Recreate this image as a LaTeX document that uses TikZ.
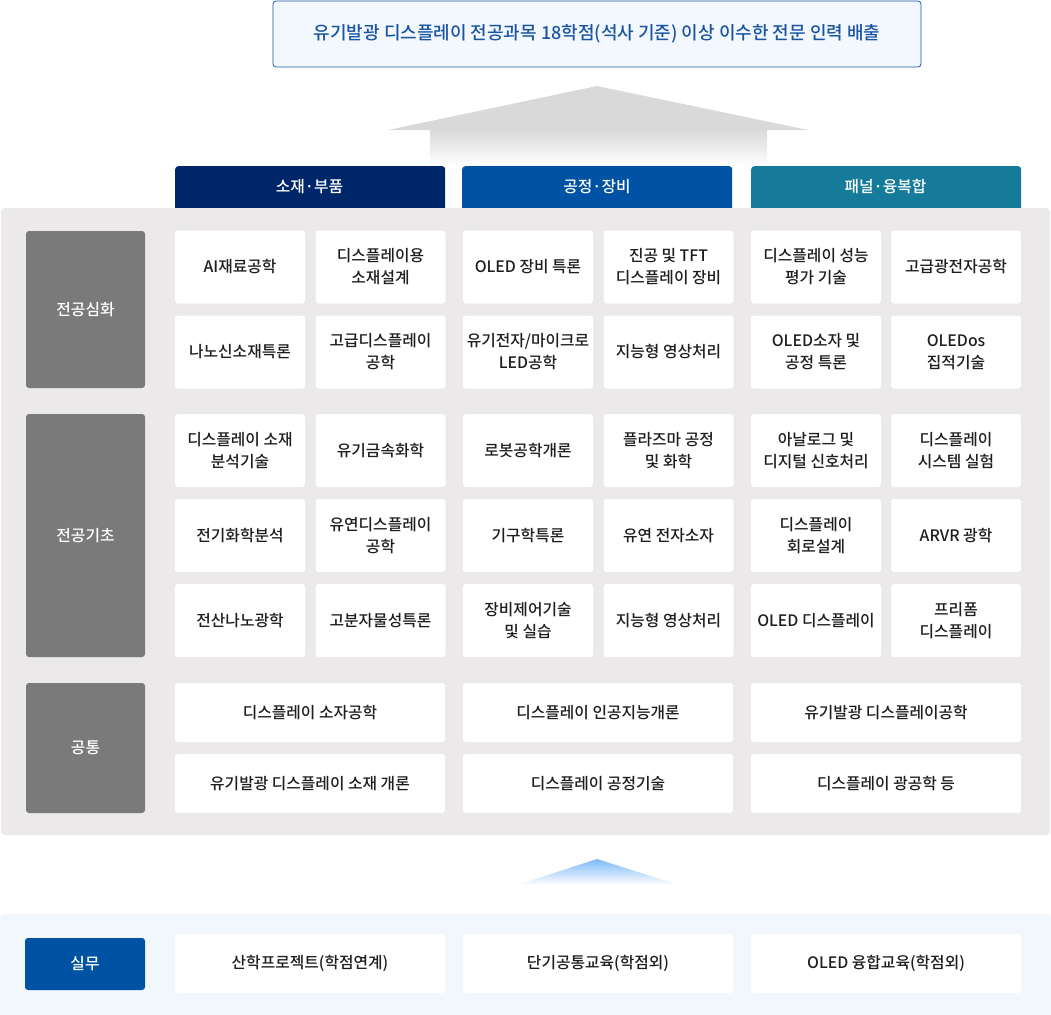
\documentclass[tikz,border=0pt]{standalone}
\usepackage{fontspec}
\setmainfont{Noto Sans CJK KR}
\newfontfamily\medfont{Noto Sans CJK KR Medium}
\usetikzlibrary{shapes.geometric}
\definecolor{navyc}{HTML}{00266A}
\definecolor{bluec}{HTML}{0052A4}
\definecolor{tealc}{HTML}{167B9B}
\definecolor{panelc}{HTML}{EBE9EA}
\definecolor{labelc}{HTML}{7A7A7A}
\definecolor{topfill}{HTML}{F3F8FE}
\definecolor{topline}{HTML}{1D58A6}
\definecolor{toptext}{HTML}{1A55A2}
\definecolor{botfill}{HTML}{F2F7FD}
\definecolor{txtc}{HTML}{1E1E1E}
\definecolor{arrowgray}{HTML}{D9D9D9}
\definecolor{arrowblue}{HTML}{7DB9F6}
\tikzset{
  cellbox/.style={fill=white, rounded corners=3pt, align=center, inner sep=0pt,
    minimum width=130pt, minimum height=73pt, text=txtc, font=\medfont\fontsize{15.8}{22}\selectfont},
  widebox/.style={cellbox, minimum width=270pt, minimum height=59pt},
  rowlabel/.style={fill=labelc, rounded corners=3pt, align=center, inner sep=0pt,
    minimum width=119pt, text=white, font=\medfont\fontsize{15.8}{22}\selectfont},
  headbox/.style={rounded corners=3pt, inner sep=0pt, minimum width=270pt, minimum height=46pt},
  headtext/.style={text=white, font=\medfont\fontsize{15.8}{22}\selectfont},
}
\begin{document}
\begin{tikzpicture}[x=1pt,y=-1pt]
\useasboundingbox (0,0) rectangle (1051,1014);
% top box
\node[draw=topline, fill=topfill, line width=0.8pt, rounded corners=3pt, minimum width=648pt, minimum height=66pt,
  inner sep=0pt, text=toptext, font=\medfont\fontsize{18}{22}\selectfont] (goal) at (597,34)
  {유기발광 디스플레이 전공과목 18학점(석사 기준) 이상 이수한 전문 인력 배출};
% gray arrow
\fill[arrowgray] (388,130) -- (597,86) -- (808,130) -- cycle;
\shade[top color=arrowgray, bottom color=white] (430,129.5) rectangle (767,166);
% headers
\node[headbox, fill=navyc, anchor=north west] (h1) at (175,166) {};
\node[headbox, fill=bluec, anchor=north west] (h2) at (462,166) {};
\node[headbox, fill=tealc, anchor=north west] (h3) at (751,166) {};
\node[headtext] (t1) at (309.5,187) {소재·부품};
\node[headtext] (t2) at (597,187) {공정·장비};
\node[headtext] (t3) at (885.5,187) {패널·융복합};
% panel
\fill[panelc, rounded corners=4pt] (1,208) rectangle (1050,835);
% row labels
\node[rowlabel, minimum height=157pt] (l1) at (85.5,309.5) {전공심화};
\node[rowlabel, minimum height=243pt] (l2) at (85.5,535.5) {전공기초};
\node[rowlabel, minimum height=130pt] (l3) at (85.5,748) {공통};
% 전공심화
\node[cellbox] (a11) at (240,267) {AI재료공학};
\node[cellbox] (a12) at (380.5,267) {디스플레이용\\소재설계};
\node[cellbox] (a13) at (528,267) {OLED 장비 특론};
\node[cellbox] (a14) at (668.5,267) {진공 및 TFT\\디스플레이 장비};
\node[cellbox] (a15) at (816,267) {디스플레이 성능\\평가 기술};
\node[cellbox] (a16) at (956,267) {고급광전자공학};
\node[cellbox] (a21) at (240,352) {나노신소재특론};
\node[cellbox] (a22) at (380.5,352) {고급디스플레이\\공학};
\node[cellbox] (a23) at (528,352) {유기전자/마이크로\\LED공학};
\node[cellbox] (a24) at (668.5,352) {지능형 영상처리};
\node[cellbox] (a25) at (816,352) {OLED소자 및\\공정 특론};
\node[cellbox] (a26) at (956,352) {OLEDos\\집적기술};
% 전공기초
\node[cellbox] (b11) at (240,450.5) {디스플레이 소재\\분석기술};
\node[cellbox] (b12) at (380.5,450.5) {유기금속화학};
\node[cellbox] (b13) at (528,450.5) {로봇공학개론};
\node[cellbox] (b14) at (668.5,450.5) {플라즈마 공정\\및 화학};
\node[cellbox] (b15) at (816,450.5) {아날로그 및\\디지털 신호처리};
\node[cellbox] (b16) at (956,450.5) {디스플레이\\시스템 실험};
\node[cellbox] (b21) at (240,535.5) {전기화학분석};
\node[cellbox] (b22) at (380.5,535.5) {유연디스플레이\\공학};
\node[cellbox] (b23) at (528,535.5) {기구학특론};
\node[cellbox] (b24) at (668.5,535.5) {유연 전자소자};
\node[cellbox] (b25) at (816,535.5) {디스플레이\\회로설계};
\node[cellbox] (b26) at (956,535.5) {ARVR 광학};
\node[cellbox] (b31) at (240,620.5) {전산나노광학};
\node[cellbox] (b32) at (380.5,620.5) {고분자물성특론};
\node[cellbox] (b33) at (528,620.5) {장비제어기술\\및 실습};
\node[cellbox] (b34) at (668.5,620.5) {지능형 영상처리};
\node[cellbox] (b35) at (816,620.5) {OLED 디스플레이};
\node[cellbox] (b36) at (956,620.5) {프리폼\\디스플레이};
% 공통
\node[widebox] (c11) at (310,712.5) {디스플레이 소자공학};
\node[widebox] (c12) at (598,712.5) {디스플레이 인공지능개론};
\node[widebox] (c13) at (886,712.5) {유기발광 디스플레이공학};
\node[widebox] (c21) at (310,783.5) {유기발광 디스플레이 소재 개론};
\node[widebox] (c22) at (598,783.5) {디스플레이 공정기술};
\node[widebox] (c23) at (886,783.5) {디스플레이 광공학 등};
% blue arrow
\shade[top color=arrowblue, bottom color=white] (517,885) -- (597,859) -- (679,885) -- cycle;
% bottom panel
\fill[botfill, rounded corners=4pt] (0,914) rectangle (1051,1030);
\node[rowlabel, fill=bluec, minimum width=120pt, minimum height=52pt] (pr) at (85,964) {실무};
\node[widebox] (d1) at (310,963.5) {산학프로젝트(학점연계)};
\node[widebox] (d2) at (598,963.5) {단기공통교육(학점외)};
\node[widebox] (d3) at (886,963.5) {OLED 융합교육(학점외)};
\end{tikzpicture}
\end{document}
